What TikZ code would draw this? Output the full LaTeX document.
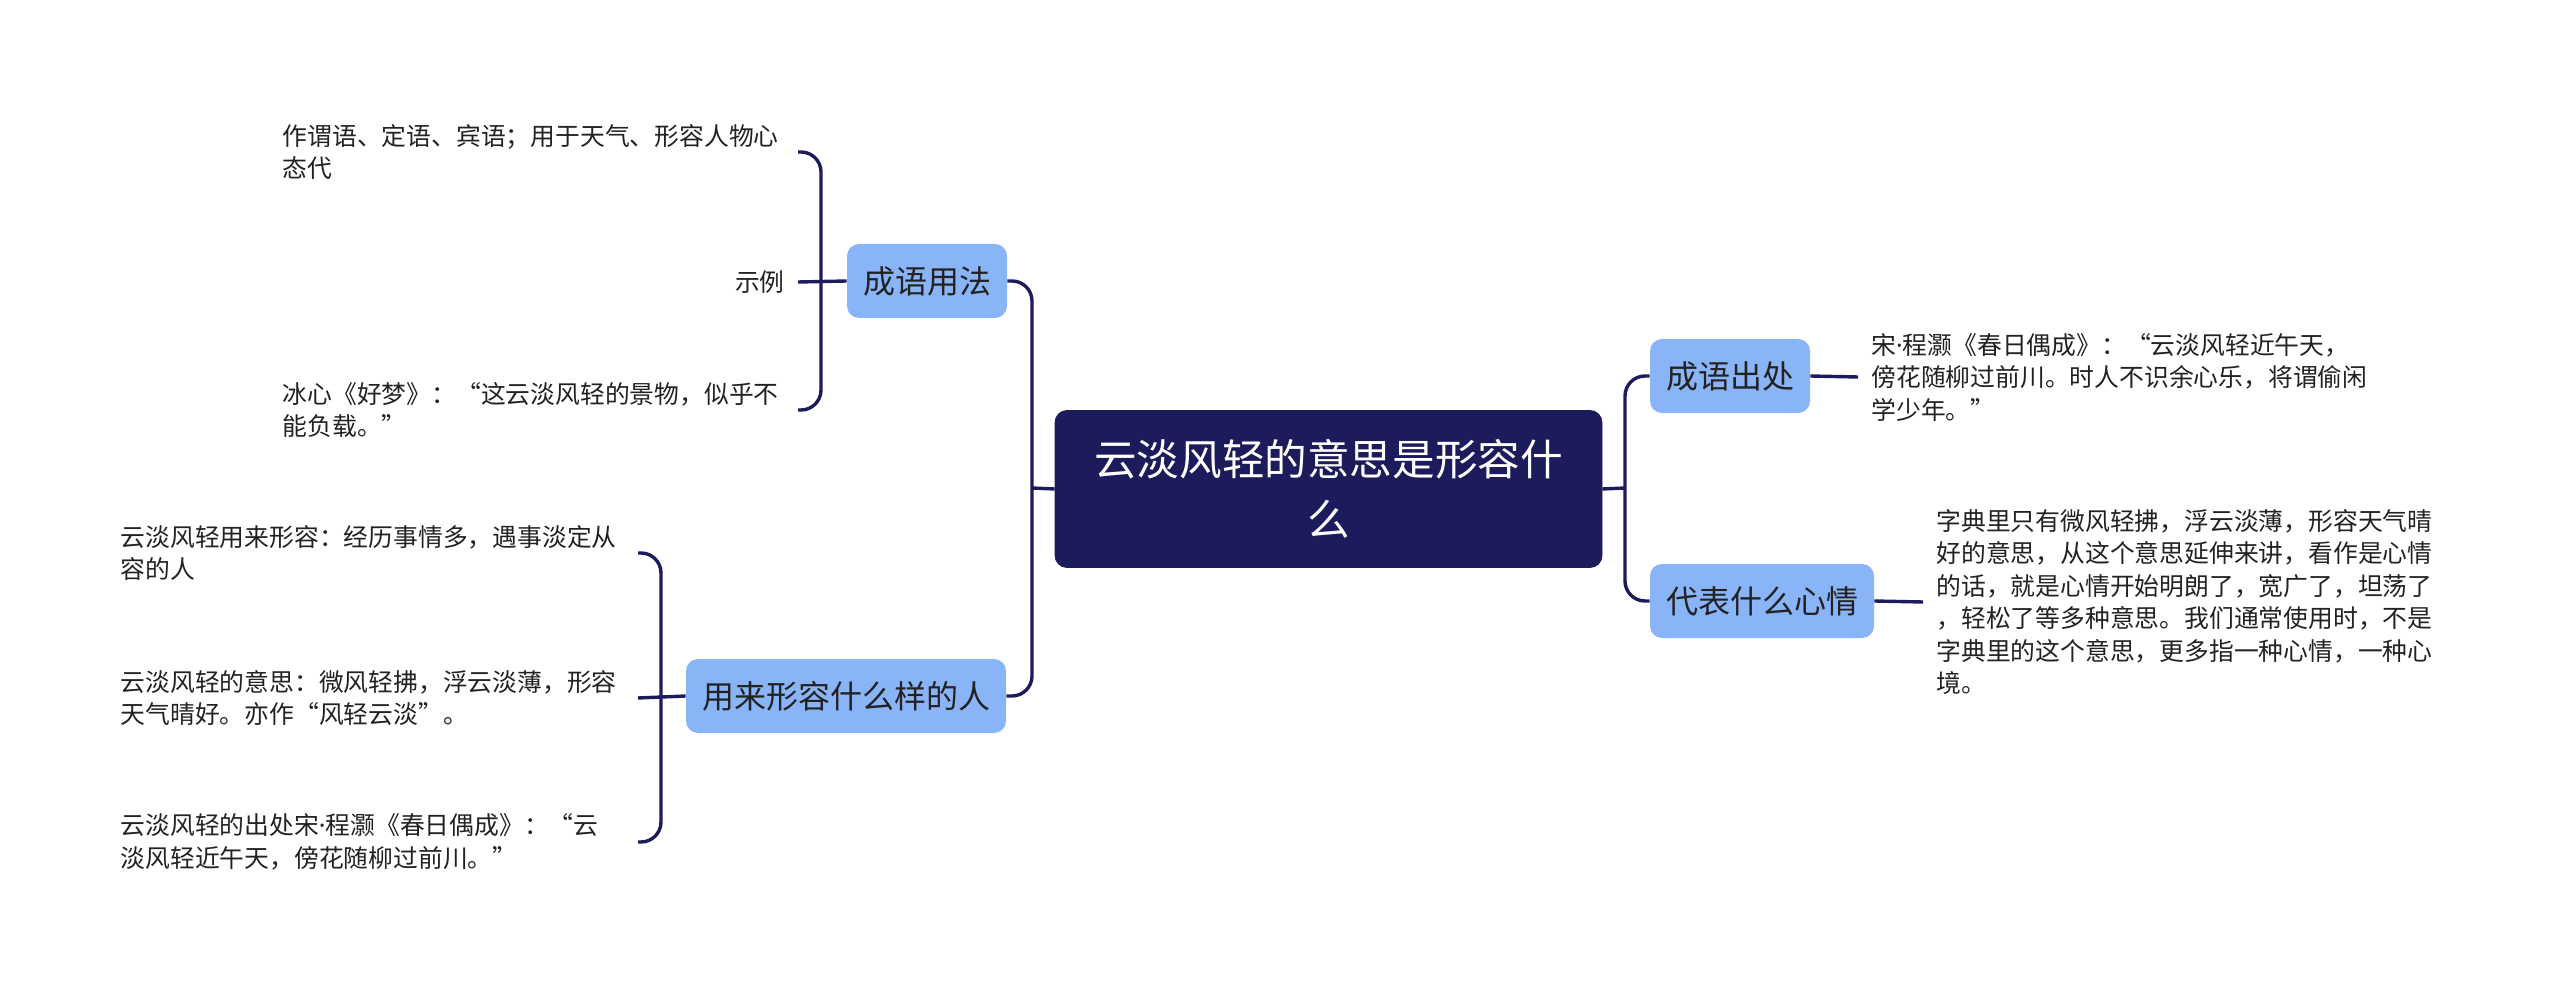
\documentclass[tikz,border=0pt]{standalone}
\usepackage{fontspec}
\setmainfont{Noto Sans CJK SC}
\newfontfamily\dotfont{Noto Sans}
\newcommand{\middot}{{\dotfont ·}}
\usepackage{tikz}
\usetikzlibrary{positioning,calc}
\usepackage{xcolor}
\definecolor{mapnavy}{HTML}{1C1B5C}
\definecolor{mapblue}{HTML}{8AB4F8}
\definecolor{mapink}{HTML}{222222}
\tikzset{
  rootbox/.style={fill=mapnavy, draw=mapnavy, rounded corners=6pt, text=white,
                  minimum width=273.5pt, minimum height=78.5pt, align=center,
                  font=\fontsize{21.3}{30}\selectfont},
  topic/.style={fill=mapblue, rounded corners=6pt, text=mapink,
                minimum height=37pt, inner xsep=8pt, inner ysep=0pt,
                font=\fontsize{16}{20}\selectfont},
  leaf/.style={text=mapink, align=left, inner xsep=6.5pt, inner ysep=0pt,
               font=\fontsize{12.4}{16.25}\selectfont},
  link/.style={draw=mapnavy, line width=1.7pt, rounded corners=10pt},
}
\begin{document}
\begin{tikzpicture}[x=0.5pt,y=-0.5pt]
\useasboundingbox (0,0) rectangle (2560,994);

\node[rootbox] (root) at (1328.5,489) {云淡风轻的意思是形容什\\么};

% left side
\node[topic] (usage)  at (927,281) {成语用法};
\node[topic] (people) at (846,696) {用来形容什么样的人};
\coordinate (ltrunk) at (1032,488);

\node[leaf, text width=251pt, anchor=east] (use1) at (798,152)
  {作谓语、定语、宾语；用于天气、形容人物心\\态代};
\node[leaf, anchor=east] (use2) at (798,282) {示例};
\node[leaf, text width=251pt, anchor=east] (use3) at (798,410)
  {冰心《好梦》：“这云淡风轻的景物，似乎不\\能负载。”};
\coordinate (ubr) at (821,282);

\node[leaf, text width=252pt, anchor=east] (ppl1) at (638,553)
  {云淡风轻用来形容：经历事情多，遇事淡定从\\容的人};
\node[leaf, text width=252pt, anchor=east] (ppl2) at (638,698)
  {云淡风轻的意思：微风轻拂，浮云淡薄，形容\\天气晴好。亦作“风轻云淡”。};
\node[leaf, text width=252pt, anchor=east] (ppl3) at (638,842)
  {云淡风轻的出处宋\middot 程灏《春日偶成》：“云\\淡风轻近午天，傍花随柳过前川。”};
\coordinate (pbr) at (661,697);

% right side
\node[topic] (origin) at (1730,376) {成语出处};
\node[topic] (mood)   at (1762,601) {代表什么心情};
\coordinate (rtrunk) at (1625,488);

\node[leaf, text width=252pt, anchor=west] (orig1) at (1858,377)
  {宋\middot 程灏《春日偶成》：“云淡风轻近午天，\\傍花随柳过前川。时人不识余心乐，将谓偷闲\\学少年。”};
\node[leaf, text width=252pt, anchor=west] (mood1) at (1923,602)
  {字典里只有微风轻拂，浮云淡薄，形容天气晴\\好的意思，从这个意思延伸来讲，看作是心情\\的话，就是心情开始明朗了，宽广了，坦荡了\\，轻松了等多种意思。我们通常使用时，不是\\字典里的这个意思，更多指一种心情，一种心\\境。};

\draw[link] (root.west) -- (ltrunk);
\draw[link] (usage.east) -| (ltrunk) |- (people.east);
\draw[link] (root.east) -- (rtrunk);
\draw[link] (origin.west) -| (rtrunk) |- (mood.west);

\draw[link] (use1.east) -| (ubr) |- (use3.east);
\draw[link] (use2.east) -- (usage.west);
\draw[link] (ppl1.east) -| (pbr) |- (ppl3.east);
\draw[link] (ppl2.east) -- (people.west);

\draw[link] (origin.east) -- (orig1.west);
\draw[link] (mood.east) -- (mood1.west);

\end{tikzpicture}
\end{document}
